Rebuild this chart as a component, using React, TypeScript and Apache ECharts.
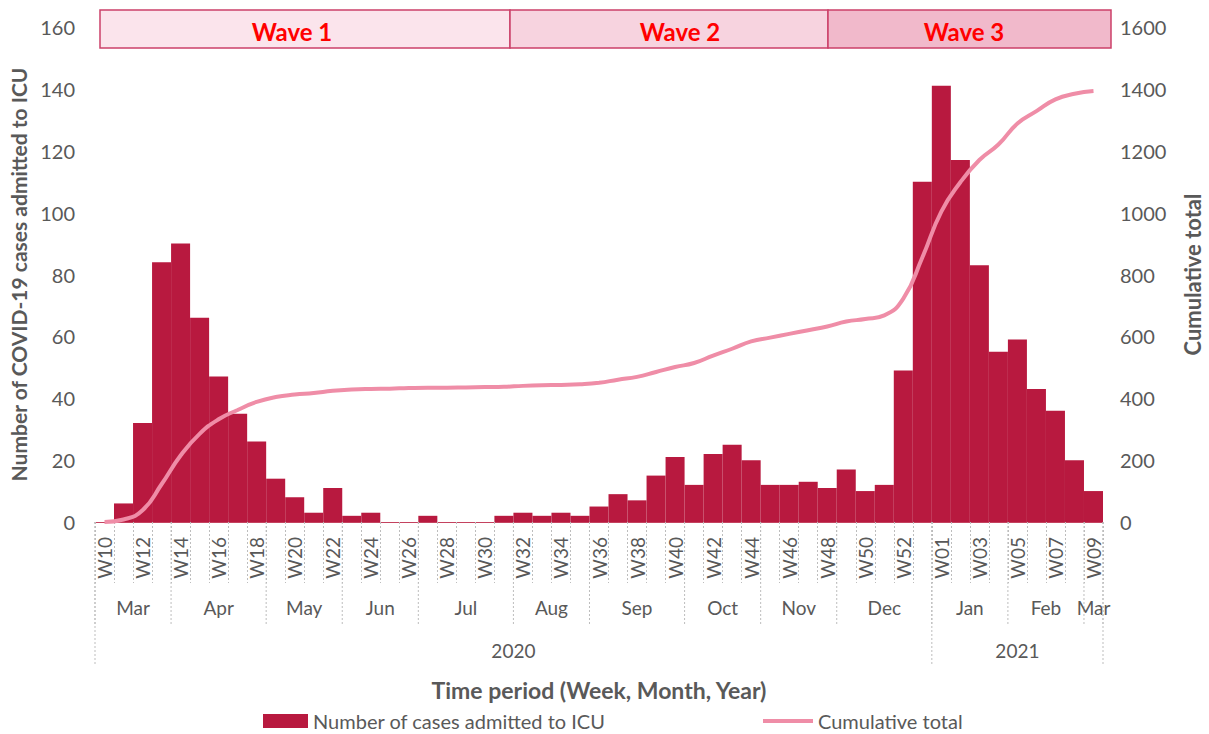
import React, { useEffect, useRef } from 'react';
import * as echarts from 'echarts';

const weeks = [
  'W10', 'W11', 'W12', 'W13', 'W14', 'W15', 'W16', 'W17', 'W18', 'W19', 'W20', 'W21', 'W22',
  'W23', 'W24', 'W25', 'W26', 'W27', 'W28', 'W29', 'W30', 'W31', 'W32', 'W33', 'W34', 'W35',
  'W36', 'W37', 'W38', 'W39', 'W40', 'W41', 'W42', 'W43', 'W44', 'W45', 'W46', 'W47', 'W48',
  'W49', 'W50', 'W51', 'W52', 'W53', 'W01', 'W02', 'W03', 'W04', 'W05', 'W06', 'W07', 'W08', 'W09',
];

const icuCases = [
  0, 6, 32, 84, 90, 66, 47, 35, 26, 14, 8, 3, 11,
  2, 3, 0, 0, 2, 0, 0, 0, 2, 3, 2, 3, 2,
  5, 9, 7, 15, 21, 12, 22, 25, 20, 12, 12, 13, 11,
  17, 10, 12, 49, 110, 141, 117, 83, 55, 59, 43, 36, 20, 10,
];

const cumulativeTotal = [
  0, 8, 38, 122, 215, 285, 332, 362, 388, 404, 412, 417, 424,
  428, 430, 431, 433, 434, 434, 435, 436, 437, 440, 442, 443, 445,
  450, 460, 469, 485, 501, 514, 538, 560, 584, 596, 608, 620, 632,
  648, 656, 668, 722, 855, 1003, 1098, 1170, 1220, 1288, 1328, 1366, 1384, 1393,
];

const monthLabels = ['Mar', 'Apr', 'May', 'Jun', 'Jul', 'Aug', 'Sep', 'Oct', 'Nov', 'Dec', 'Jan', 'Feb', 'Mar'];
const monthStartIdx = [0, 4, 9, 13, 17, 22, 26, 31, 35, 39, 44, 48, 52];
const monthEndIdx = [3, 8, 12, 16, 21, 25, 30, 34, 38, 43, 47, 51, 52];

const yearLabels = ['2020', '2021'];
const yearStartIdx = [0, 44];
const yearEndIdx = [43, 52];

const waveLabels = ['Wave 1', 'Wave 2', 'Wave 3'];

const FONT = 'Lato, "Open Sans", sans-serif';
const GREY = '#595959';
const BAR = '#b8193f';
const LINE = '#ef8da7';
const DIV = '#bdbdbd';

export default function App() {
  const ref = useRef<HTMLDivElement>(null);

  useEffect(() => {
    if (!ref.current) return;
    const chart = echarts.init(ref.current, null, { renderer: 'svg' });

    const groupData = [
      ...monthLabels.map((_, i) => [monthStartIdx[i], monthEndIdx[i], 0, 0, i === monthLabels.length - 1 ? 1 : 0]),
      ...yearLabels.map((_, i) => [yearStartIdx[i], yearEndIdx[i], 1, 0, i === yearLabels.length - 1 ? 1 : 0]),
    ];
    const groupNames = [...monthLabels, ...yearLabels];

    const waveBoxes = [
      { x0: 100, x1: 510, fill: '#fbe4ec', tx: 292 },
      { x0: 510, x1: 828, fill: '#f7d3df', tx: 680 },
      { x0: 828, x1: 1111, fill: '#f1b9cb', tx: 964 },
    ];

    const graphics: any[] = [];
    waveBoxes.forEach((b, i) => {
      graphics.push({
        type: 'rect',
        shape: { x: b.x0, y: 10, width: b.x1 - b.x0, height: 38 },
        style: { fill: b.fill, stroke: '#cc4069', lineWidth: 1.5 },
        z: 10,
      });
      graphics.push({
        type: 'text',
        x: b.tx,
        y: 31,
        style: {
          text: waveLabels[i],
          fill: '#ff0000',
          font: `bold 24px ${FONT}`,
          align: 'center',
          verticalAlign: 'middle',
        },
        z: 11,
      });
    });

    const plain = (v: number) => String(v);

    const option: any = {
      animation: false,
      backgroundColor: '#ffffff',
      textStyle: { fontFamily: FONT },
      grid: { left: 95, right: 106, top: 27, bottom: 212, containLabel: false, outerBoundsMode: 'none' },
      legend: [
        {
          left: 263,
          top: 711,
          padding: 0,
          itemWidth: 45,
          itemHeight: 14,
          data: [{ name: 'Number of cases admitted to ICU', icon: 'rect' }],
          textStyle: { color: GREY, fontSize: 20, fontFamily: FONT },
        },
        {
          left: 763,
          top: 711,
          padding: 0,
          itemWidth: 50,
          itemHeight: 14,
          data: [{ name: 'Cumulative total', icon: 'path://M0,0H50V4H0Z' }],
          textStyle: { color: GREY, fontSize: 20, fontFamily: FONT },
        },
      ],
      xAxis: {
        type: 'category',
        data: weeks,
        name: 'Time period (Week, Month, Year)',
        nameLocation: 'middle',
        nameGap: 156,
        nameTextStyle: { color: GREY, fontSize: 23, fontWeight: 'bold', fontFamily: FONT },
        axisLine: { show: true, lineStyle: { color: '#c4425f', width: 1 } },
        axisTick: {
          show: true,
          interval: 0,
          alignWithLabel: false,
          length: 61,
          lineStyle: { color: DIV, type: [2, 2], width: 1 },
        },
        axisLabel: {
          interval: 1,
          rotate: 90,
          margin: 15,
          color: GREY,
          fontSize: 19,
          fontFamily: FONT,
        },
        splitLine: { show: false },
      },
      yAxis: [
        {
          type: 'value',
          min: 0,
          max: 160,
          interval: 20,
          name: 'Number of COVID-19 cases admitted to ICU',
          nameLocation: 'middle',
          nameGap: 64,
          nameRotate: 90,
          nameTextStyle: { color: GREY, fontSize: 21, fontWeight: 'bold', fontFamily: FONT },
          axisLine: { show: false },
          axisTick: { show: false },
          splitLine: { show: false },
          axisLabel: { color: GREY, fontSize: 20, margin: 20, fontFamily: FONT, formatter: plain },
        },
        {
          type: 'value',
          min: 0,
          max: 1600,
          interval: 200,
          position: 'right',
          name: 'Cumulative total',
          nameLocation: 'middle',
          nameGap: 78,
          nameRotate: 90,
          nameTextStyle: { color: GREY, fontSize: 22, fontWeight: 'bold', fontFamily: FONT },
          axisLine: { show: false },
          axisTick: { show: false },
          splitLine: { show: false },
          axisLabel: { color: GREY, fontSize: 20, margin: 17, fontFamily: FONT, formatter: plain },
        },
      ],
      series: [
        {
          name: 'Number of cases admitted to ICU',
          type: 'bar',
          data: icuCases,
          barCategoryGap: '0%',
          itemStyle: { color: BAR },
          z: 2,
        },
        {
          name: 'Cumulative total',
          type: 'line',
          yAxisIndex: 1,
          data: cumulativeTotal,
          smooth: true,
          showSymbol: false,
          lineStyle: { color: LINE, width: 4 },
          itemStyle: { color: LINE },
          z: 3,
        },
        {
          name: 'groups',
          type: 'custom',
          coordinateSystem: 'cartesian2d',
          xAxisIndex: 0,
          yAxisIndex: 0,
          silent: true,
          clip: false,
          encode: { x: 0, y: 3 },
          data: groupData,
          renderItem: (params: any, api: any) => {
            const s = api.value(0);
            const e = api.value(1);
            const level = api.value(2);
            const isLast = api.value(4) === 1;
            const band = api.size([1, 0])[0];
            const a = api.coord([s, 0]);
            const b = api.coord([e, 0]);
            const x0 = a[0] - band / 2;
            const x1 = b[0] + band / 2;
            const y0 = a[1];
            const len = level === 0 ? 103 : 143;
            const ty = level === 0 ? 85 : 128;
            const children: any[] = [
              {
                type: 'line',
                shape: { x1: x0, y1: y0, x2: x0, y2: y0 + len },
                style: { stroke: DIV, lineWidth: 1, lineDash: [2, 2] },
              },
              {
                type: 'text',
                x: (x0 + x1) / 2,
                y: y0 + ty,
                style: {
                  text: groupNames[params.dataIndex],
                  fill: GREY,
                  font: `19px ${FONT}`,
                  align: 'center',
                  verticalAlign: 'middle',
                },
              },
            ];
            if (isLast) {
              children.push({
                type: 'line',
                shape: { x1: x1, y1: y0, x2: x1, y2: y0 + len },
                style: { stroke: DIV, lineWidth: 1, lineDash: [2, 2] },
              });
            }
            return { type: 'group', children };
          },
          z: 1,
        },
      ],
      graphic: graphics,
    };

    chart.setOption(option);
    return () => chart.dispose();
  }, []);

  return (
    <div
      ref={ref}
      style={{ position: 'fixed', left: 0, top: 0, width: 1209, height: 734, background: '#ffffff' }}
    />
  );
}
